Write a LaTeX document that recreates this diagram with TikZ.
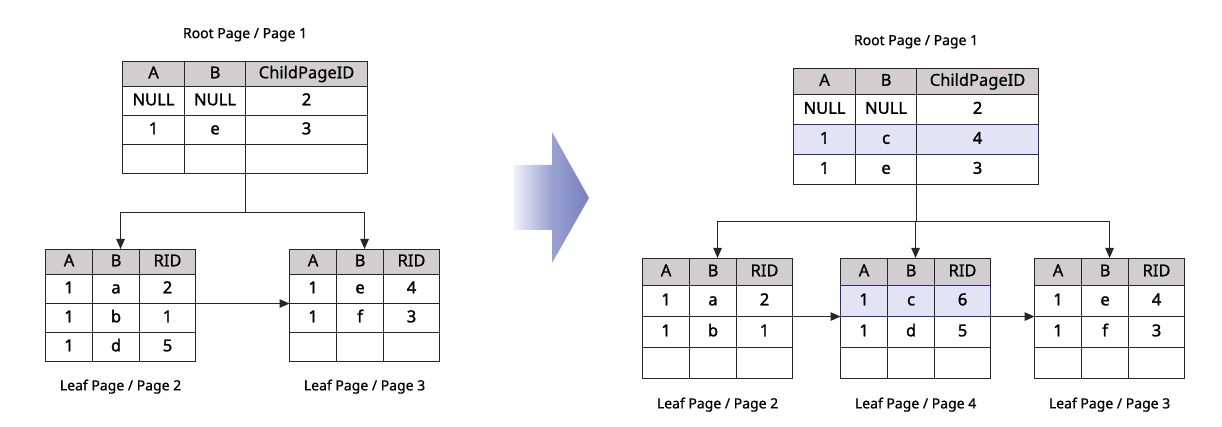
\documentclass[tikz,border=0pt]{standalone}
\usepackage{fontspec}
\setmainfont{Noto Sans}
\newfontfamily\datafont{Noto Sans}[FakeBold=1.6]
\newfontfamily\hdrfont{Noto Sans}[FakeBold=0.7]
\newfontfamily\capfont{Noto Sans}[FakeBold=0.9]
\usetikzlibrary{arrows.meta,calc,positioning,matrix}
\definecolor{hdrgray}{HTML}{D2CECF}
\definecolor{hilite}{HTML}{E2E3F5}
\definecolor{hiline}{HTML}{2A2E6E}
\definecolor{bigdark}{HTML}{7780C0}
\definecolor{biglight}{HTML}{EEF0FA}

\begin{document}
\begin{tikzpicture}[
  x=1pt, y=-1pt,
  line width=1.1pt,
  cell/.style={draw=black!85, inner sep=0pt, outer sep=0pt, text height=12pt,
               text depth=3.5pt, font=\datafont\fontsize{16.5}{18}\selectfont},
  hdr/.style={fill=hdrgray, font=\hdrfont\fontsize{16.5}{18}\selectfont},
  tbl/.style 2 args={matrix of nodes, nodes in empty cells, anchor=north west,
               inner sep=0pt, outer sep=0pt, column sep=-1.1pt, row sep=-1.1pt,
               nodes={cell, minimum height=#2},
               row 1/.style={nodes={hdr, minimum height=#1}}},
  rootcols/.style={column 1/.style={nodes={minimum width=62pt}},
               column 2/.style={nodes={minimum width=61pt}},
               column 3/.style={nodes={minimum width=122pt}}},
  leafcols/.style={column 1/.style={nodes={minimum width=47pt}},
               column 2/.style={nodes={minimum width=47pt}},
               column 3/.style={nodes={minimum width=56pt}}},
  lbl/.style={font=\capfont\fontsize{14}{16}\selectfont, inner sep=0pt},
  hibox/.style={draw=hiline, line width=1.2pt},
  arr/.style={-{Triangle[length=10pt, width=8.5pt]}, line width=1pt, black!85}]
\useasboundingbox (0,0) rectangle (1222,427);

% before the insert
\matrix (rootL) [tbl={25pt}{29pt}, rootcols] at (122,61) {
  A & B & ChildPageID \\
  NULL & NULL & 2 \\
  1 & e & 3 \\
  & & \\
};
\matrix (leafL2) [tbl={25pt}{29pt}, leafcols] at (45,249) {
  A & B & RID \\
  1 & a & 2 \\
  1 & b & 1 \\
  1 & d & 5 \\
};
\matrix (leafL3) [tbl={25pt}{29pt}, leafcols] at (289,249) {
  A & B & RID \\
  1 & e & 4 \\
  1 & f & 3 \\
  & & \\
};
\node[lbl, above=19pt of rootL] (rootLcap) {Root Page / Page 1};
\node[lbl, below=17pt of leafL2] (leafL2cap) {Leaf Page / Page 2};
\node[lbl, below=17pt of leafL3] (leafL3cap) {Leaf Page / Page 3};

\coordinate (forkL) at ($(rootL-4-3.south west)+(0,39)$);
\foreach \leaf in {leafL2, leafL3}
  \draw[arr] (rootL-4-3.south west) -- (forkL) -| (\leaf.north);
\draw[arr] (leafL2-2-3.south east) -- (leafL3-2-1.south west);

% big arrow
\shade[left color=biglight, right color=bigdark, middle color=bigdark!70!biglight]
  (514,165) -- (552,165) -- (552,132) -- (589,198) -- (552,263) -- (552,230)
  -- (514,230) -- cycle;

% after the page split
\matrix (rootR) [tbl={26pt}{30pt}, rootcols, row 3/.style={nodes={fill=hilite}}]
  at (793,68) {
  A & B & ChildPageID \\
  NULL & NULL & 2 \\
  1 & c & 4 \\
  1 & e & 3 \\
};
\matrix (leafR2) [tbl={27pt}{31pt}, leafcols] at (642,258) {
  A & B & RID \\
  1 & a & 2 \\
  1 & b & 1 \\
  & & \\
};
\matrix (leafR4) [tbl={27pt}{31pt}, leafcols, row 2/.style={nodes={fill=hilite}}]
  at (840,258) {
  A & B & RID \\
  1 & c & 6 \\
  1 & d & 5 \\
  & & \\
};
\matrix (leafR3) [tbl={27pt}{31pt}, leafcols] at (1034,258) {
  A & B & RID \\
  1 & e & 4 \\
  1 & f & 3 \\
  & & \\
};
\draw[hibox] (rootR-3-1.north west) rectangle (rootR-3-3.south east);
\draw[hibox] (leafR4-2-1.north west) rectangle (leafR4-2-3.south east);

\node[lbl, above=19pt of rootR] (rootRcap) {Root Page / Page 1};
\node[lbl, below=18pt of leafR2] (leafR2cap) {Leaf Page / Page 2};
\node[lbl, below=18pt of leafR4] (leafR4cap) {Leaf Page / Page 4};
\node[lbl, below=18pt of leafR3] (leafR3cap) {Leaf Page / Page 3};

\coordinate (forkR) at ($(rootR-4-3.south west)+(0,37)$);
\foreach \leaf in {leafR2, leafR4, leafR3}
  \draw[arr] (rootR-4-3.south west) -- (forkR) -| (\leaf.north);
\foreach \a/\b in {leafR2/leafR4, leafR4/leafR3}
  \draw[arr] (\a-2-3.south east) -- (\b-2-1.south west);
\end{tikzpicture}
\end{document}
